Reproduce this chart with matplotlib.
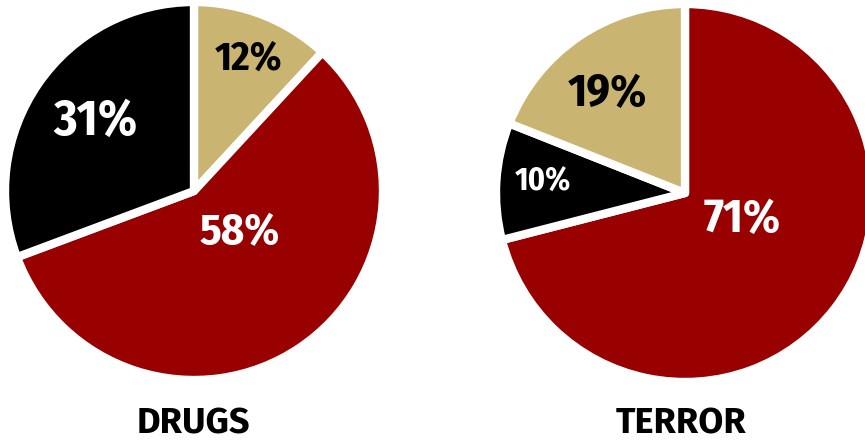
import matplotlib
matplotlib.use("Agg")
import matplotlib.pyplot as plt

# shares per category, clockwise from 12 o'clock
drugs_values = [12, 58, 31]
drugs_colors = ["#C9B571", "#990000", "#000000"]
terror_values = [71, 10, 19]
terror_colors = ["#990000", "#000000", "#C9B571"]
titles = ["DRUGS", "TERROR"]

# label placement (data units, pie radius = 1), text colour and size
drugs_label_pos = [(0.29, 0.70), (0.24, -0.22), (-0.52, 0.365)]
drugs_label_col = ["black", "white", "white"]
drugs_label_size = [29, 32, 36]
terror_label_pos = [(0.30, -0.14), (-0.75, 0.06), (-0.41, 0.525)]
terror_label_col = ["white", "white", "black"]
terror_label_size = [34, 23, 33]

FONT = ["Fira Sans Condensed", "DejaVu Sans"]
TITLE_FONT = ["Fira Sans", "DejaVu Sans"]

W, H = 865, 440
fig = plt.figure(figsize=(W / 100, H / 100), dpi=100)


def pie_axes(cx, cy, r):
    # axes in pixel terms: centre (cx, cy) from top-left, radius r
    return fig.add_axes([(cx - r) / W, (H - cy - r) / H, 2 * r / W, 2 * r / H])


def draw_pie(ax, values, colors, pos, cols, sizes):
    ax.pie(values, colors=colors, startangle=90, counterclock=False,
           wedgeprops=dict(edgecolor="white", linewidth=6, joinstyle="round"))
    for v, (x, y), c, s in zip(values, pos, cols, sizes):
        ax.text(x, y, f"{v}%", color=c, fontsize=s, fontweight="bold",
                family=FONT, ha="center", va="center")
    ax.set_xlim(-1, 1)
    ax.set_ylim(-1, 1)
    ax.set_aspect("equal")
    ax.axis("off")


ax1 = pie_axes(194, 191, 189)
draw_pie(ax1, drugs_values, drugs_colors, drugs_label_pos,
         drugs_label_col, drugs_label_size)

ax2 = pie_axes(685, 193, 189)
draw_pie(ax2, terror_values, terror_colors, terror_label_pos,
         terror_label_col, terror_label_size)

for x, t in zip([193, 681], titles):
    fig.text(x / W, 1 - 433 / H, t, fontsize=26, fontweight="bold",
             family=TITLE_FONT, ha="center", va="baseline")

fig.savefig("out.png", dpi=100, facecolor="white")
